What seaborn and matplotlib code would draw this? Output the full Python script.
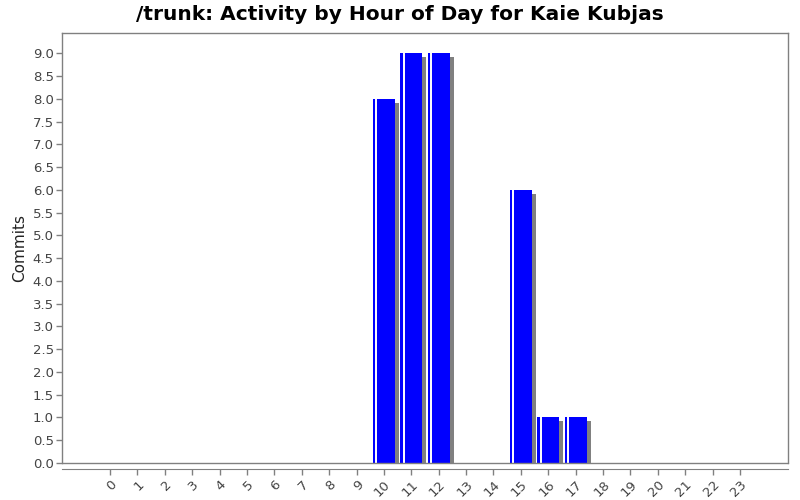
import matplotlib
matplotlib.use("Agg")
import matplotlib.pyplot as plt
import matplotlib.transforms as mtransforms
import numpy as np
import pandas as pd
import seaborn as sns

hours = [str(h) for h in range(24)]
commits = [0, 0, 0, 0, 0, 0, 0, 0, 0, 0, 8, 9, 9, 0, 0, 6, 1, 1, 0, 0, 0, 0, 0, 0]
yticks = np.arange(0, 9.5, 0.5)

df = pd.DataFrame({"hour": hours, "commits": commits})

sns.set_style("white")
plt.rcParams["font.family"] = ["DejaVu Sans"]

fig = plt.figure(figsize=(8, 5), dpi=100)
ax = fig.add_axes([62 / 800, 37 / 500, 726 / 800, 430 / 500])

# shadow bars: same data, shifted 4px right / 4px down
shadow = mtransforms.offset_copy(ax.transData, fig=fig, x=4, y=-4, units="dots")
xs = np.arange(len(hours))
vals = np.array(commits, dtype=float)
mask = vals > 0
ax.bar(xs[mask], vals[mask], width=0.8, color="#808080", linewidth=0,
       transform=shadow, zorder=1)

sns.barplot(data=df, x="hour", y="commits", order=hours, color="#0000ff",
            saturation=1, width=0.8, linewidth=0, ax=ax, zorder=2)

# white highlight stripe near the left edge of each bar
hl = mtransforms.offset_copy(ax.transData, fig=fig, x=3.5, y=0, units="dots")
ax.vlines(xs[mask] - 0.4, 0, vals[mask], color="white", linewidth=1.4,
          transform=hl, zorder=3)

ax.set_xlim(-1.75, 24.75)
ax.set_ylim(0, 9.45)
ax.set_yticks(yticks)
ax.set_yticklabels([f"{v:.1f}" for v in yticks])
ax.set_xlabel("")
ax.set_ylabel("Commits", fontsize=11, color="#222222")

for s in ["top", "right", "left"]:
    ax.spines[s].set_color("#808080")
    ax.spines[s].set_linewidth(1)
ax.spines["bottom"].set_position(("outward", 4))
ax.spines["bottom"].set_color("#808080")
ax.axhline(0, color="#808080", linewidth=1, clip_on=False, zorder=4)

ax.tick_params(axis="both", length=4, width=1, color="#808080",
               labelsize=9.5, labelcolor="#444444", direction="out")
ax.tick_params(axis="x", bottom=True, pad=3)
ax.tick_params(axis="y", left=True, pad=2)
plt.setp(ax.get_xticklabels(), rotation=45, ha="right", rotation_mode="anchor")

fig.suptitle("/trunk: Activity by Hour of Day for Kaie Kubjas", fontsize=14.5,
             fontweight="bold", color="black", y=0.99)

fig.savefig("out.png", dpi=100)
